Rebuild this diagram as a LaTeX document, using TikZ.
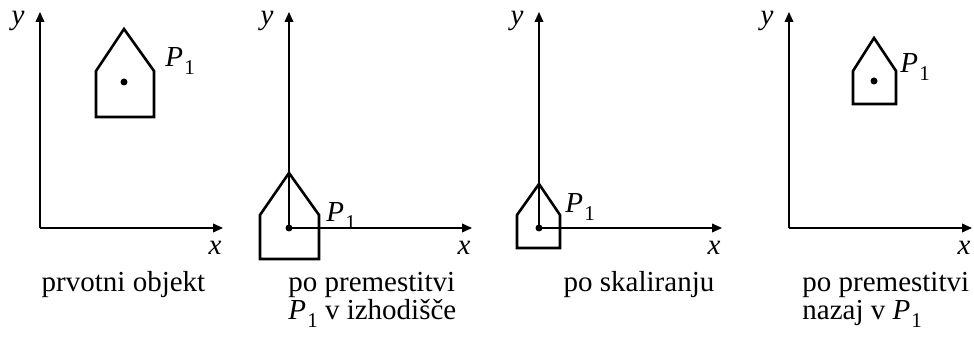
\documentclass[tikz,border=0pt]{standalone}
\usepackage{fontspec}
\setmainfont{Liberation Serif}
\usetikzlibrary{arrows.meta}

\newcommand{\Pone}{\textit{P}\kern0.6pt\raisebox{-3.8pt}{\fontsize{10.5}{10.5}\selectfont 1}}

\begin{document}
\begin{tikzpicture}[x=0.5pt,y=0.5pt,>={Triangle[length=5pt,width=4.4pt]},
    axis/.style={->,line width=0.6pt},
    house/.style={line width=1.3pt},
    lbl/.style={font=\fontsize{14.5}{14}\selectfont,inner sep=0pt},
    dot/.style={circle,fill,inner sep=0pt,minimum size=3.5pt}]
  \useasboundingbox (0,0) rectangle (974,340);
  % axes of the four panels
  \foreach \i/\ox in {1/40,2/289,3/539,4/789} {
    \coordinate (o\i) at (\ox,112);
    \coordinate (ytip\i) at (\ox,328);
    \coordinate (xtip\i) at (\ox+183,112);
    \draw[axis] (o\i) -- (ytip\i);
    \draw[axis] (o\i) -- (xtip\i);
    \node[lbl,anchor=base] (ylab\i) at (\ox-22,315) {\textit{y}};
    \node[lbl,anchor=base] (xlab\i) at (\ox+175,85) {\textit{x}};
  }
  % original object
  \draw[house] (96,223) -- (96,269) -- (124,311) -- (154,269) -- (154,223) -- cycle;
  \node[dot] (c1) at (124,258) {};
  \node[lbl,anchor=base west] (p1) at (165,273) {\Pone};
  % moved to origin
  \draw[house] (260,81) -- (260,125) -- (289,167) -- (319,125) -- (319,81) -- cycle;
  \node[dot] (c2) at (o2) {};
  \node[lbl,anchor=base west] (p2) at (326,118) {\Pone};
  % scaled
  \draw[house] (517,92) -- (517,125) -- (539,156) -- (560,125) -- (560,92) -- cycle;
  \node[dot] (c3) at (o3) {};
  \node[lbl,anchor=base west] (p3) at (565,127) {\Pone};
  % moved back
  \draw[house] (853,236) -- (853,269) -- (874,302) -- (896,269) -- (896,236) -- cycle;
  \node[dot] (c4) at (874,259) {};
  \node[lbl,anchor=base west] (p4) at (900,267) {\Pone};
  % captions (base of a two-line node is its last line)
  \node[lbl,anchor=base] (cap1) at (123.5,48) {prvotni objekt};
  \node[lbl,anchor=base west,align=left] (cap2) at (288,20) {po premestitvi\\\Pone{} v izhodišče};
  \node[lbl,anchor=base] (cap3) at (639,48) {po skaliranju};
  \node[lbl,anchor=base west,align=left] (cap4) at (802,20) {po premestitvi\\nazaj v \Pone};
\end{tikzpicture}
\end{document}
